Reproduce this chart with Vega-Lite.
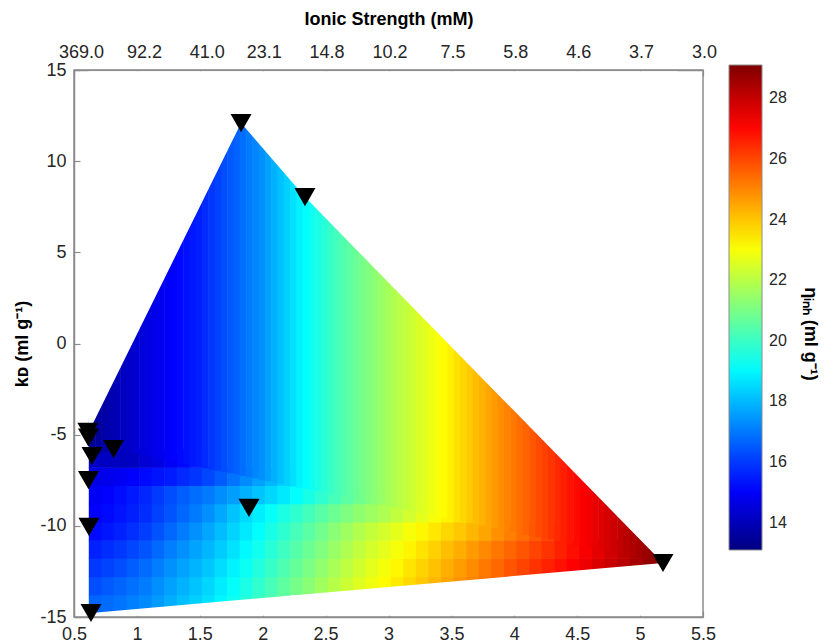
{
"$schema": "https://vega.github.io/schema/vega-lite/v6.json",
"width": 629, "height": 547,
"autosize": {"type": "none"},
"padding": {"left": 74, "top": 70, "right": 121, "bottom": 25},
"background": "white",
"config": {
 "view": {"stroke": "#8c8c8c", "strokeWidth": 1.5},
 "font": "Liberation Sans",
 "axis": {"labelFont": "Liberation Sans", "labelFontSize": 18, "labelColor": "#262626", "titleFont": "Liberation Sans", "titleFontSize": 18, "titleFontWeight": "bold", "titleColor": "#000000", "tickColor": "#8c8c8c", "tickSize": -6, "tickWidth": 1.2, "domainColor": "#8c8c8c", "domainWidth": 1.5, "grid": false, "labelPadding": 14, "labelFlush": false, "labelOverlap": false}
},
"datasets": {
 "cells": [
{"x":0.67,"y":-14.3,"v":16.69},{"x":0.67,"y":-13.3,"v":16.33},{"x":0.67,"y":-12.3,"v":15.97},{"x":0.67,"y":-11.3,"v":15.61},{"x":0.67,"y":-10.3,"v":15.25},{"x":0.67,"y":-9.3,"v":15.06},{"x":0.67,"y":-8.3,"v":14.95},{"x":0.67,"y":-7.3,"v":14.71},{"x":0.67,"y":-6.3,"v":14.19},
{"x":0.77,"y":-14.3,"v":16.8},{"x":0.77,"y":-13.3,"v":16.51},{"x":0.77,"y":-12.3,"v":16.15},{"x":0.77,"y":-11.3,"v":15.79},{"x":0.77,"y":-10.3,"v":15.43},{"x":0.77,"y":-9.3,"v":15.22},{"x":0.77,"y":-8.3,"v":15.11},{"x":0.77,"y":-7.3,"v":14.81},{"x":0.77,"y":-6.3,"v":14.15},
{"x":0.87,"y":-14.3,"v":16.92},{"x":0.87,"y":-13.3,"v":16.69},{"x":0.87,"y":-12.3,"v":16.33},{"x":0.87,"y":-11.3,"v":15.97},{"x":0.87,"y":-10.3,"v":15.61},{"x":0.87,"y":-9.3,"v":15.38},{"x":0.87,"y":-8.3,"v":15.27},{"x":0.87,"y":-7.3,"v":14.91},{"x":0.87,"y":-6.3,"v":14.09},
{"x":0.97,"y":-14.3,"v":17.09},{"x":0.97,"y":-13.3,"v":16.88},{"x":0.97,"y":-12.3,"v":16.56},{"x":0.97,"y":-11.3,"v":16.2},{"x":0.97,"y":-10.3,"v":15.84},{"x":0.97,"y":-9.3,"v":15.59},{"x":0.97,"y":-8.3,"v":15.47},{"x":0.97,"y":-7.3,"v":15.09},{"x":0.97,"y":-6.3,"v":14.1},
{"x":1.07,"y":-14.3,"v":17.27},{"x":1.07,"y":-13.3,"v":17.05},{"x":1.07,"y":-12.3,"v":16.78},{"x":1.07,"y":-11.3,"v":16.42},{"x":1.07,"y":-10.3,"v":16.06},{"x":1.07,"y":-9.3,"v":15.8},{"x":1.07,"y":-8.3,"v":15.68},{"x":1.07,"y":-7.3,"v":15.24},{"x":1.07,"y":-6.3,"v":14.4},
{"x":1.17,"y":-14.3,"v":17.53},{"x":1.17,"y":-13.3,"v":17.34},{"x":1.17,"y":-12.3,"v":17.08},{"x":1.17,"y":-11.3,"v":16.75},{"x":1.17,"y":-10.3,"v":16.39},{"x":1.17,"y":-9.3,"v":16.11},{"x":1.17,"y":-8.3,"v":15.99},{"x":1.17,"y":-7.3,"v":15.4},{"x":1.17,"y":-6.3,"v":14.63},
{"x":1.27,"y":-14.3,"v":17.82},{"x":1.27,"y":-13.3,"v":17.62},{"x":1.27,"y":-12.3,"v":17.37},{"x":1.27,"y":-11.3,"v":17.08},{"x":1.27,"y":-10.3,"v":16.72},{"x":1.27,"y":-9.3,"v":16.42},{"x":1.27,"y":-8.3,"v":16.3},{"x":1.27,"y":-7.3,"v":15.5},{"x":1.27,"y":-6.3,"v":14.92},
{"x":1.37,"y":-14.3,"v":18.08},{"x":1.37,"y":-13.3,"v":17.9},{"x":1.37,"y":-12.3,"v":17.65},{"x":1.37,"y":-11.3,"v":17.37},{"x":1.37,"y":-10.3,"v":17.05},{"x":1.37,"y":-9.3,"v":16.73},{"x":1.37,"y":-8.3,"v":16.56},{"x":1.37,"y":-7.3,"v":15.73},{"x":1.37,"y":-6.3,"v":15.21},
{"x":1.47,"y":-14.3,"v":18.37},{"x":1.47,"y":-13.3,"v":18.18},{"x":1.47,"y":-12.3,"v":17.93},{"x":1.47,"y":-11.3,"v":17.68},{"x":1.47,"y":-10.3,"v":17.38},{"x":1.47,"y":-9.3,"v":17.03},{"x":1.47,"y":-8.3,"v":16.81},{"x":1.47,"y":-7.3,"v":15.93},{"x":1.47,"y":-6.3,"v":15.49},
{"x":1.57,"y":-14.3,"v":18.63},{"x":1.57,"y":-13.3,"v":18.46},{"x":1.57,"y":-12.3,"v":18.21},{"x":1.57,"y":-11.3,"v":17.96},{"x":1.57,"y":-10.3,"v":17.7},{"x":1.57,"y":-9.3,"v":17.35},{"x":1.57,"y":-8.3,"v":17.02},{"x":1.57,"y":-7.3,"v":16.2},
{"x":1.67,"y":-14.3,"v":18.98},{"x":1.67,"y":-13.3,"v":18.81},{"x":1.67,"y":-12.3,"v":18.56},{"x":1.67,"y":-11.3,"v":18.31},{"x":1.67,"y":-10.3,"v":18.07},{"x":1.67,"y":-9.3,"v":17.74},{"x":1.67,"y":-8.3,"v":17.32},{"x":1.67,"y":-7.3,"v":16.55},
{"x":1.77,"y":-14.3,"v":19.32},{"x":1.77,"y":-13.3,"v":19.16},{"x":1.77,"y":-12.3,"v":18.91},{"x":1.77,"y":-11.3,"v":18.66},{"x":1.77,"y":-10.3,"v":18.42},{"x":1.77,"y":-9.3,"v":18.16},{"x":1.77,"y":-8.3,"v":17.59},{"x":1.77,"y":-7.3,"v":16.91},
{"x":1.87,"y":-14.3,"v":19.67},{"x":1.87,"y":-13.3,"v":19.51},{"x":1.87,"y":-12.3,"v":19.26},{"x":1.87,"y":-11.3,"v":19.02},{"x":1.87,"y":-10.3,"v":18.77},{"x":1.87,"y":-9.3,"v":18.52},{"x":1.87,"y":-8.3,"v":17.88},{"x":1.87,"y":-7.3,"v":17.26},
{"x":1.97,"y":-14.3,"v":20.01},{"x":1.97,"y":-13.3,"v":19.86},{"x":1.97,"y":-12.3,"v":19.62},{"x":1.97,"y":-11.3,"v":19.37},{"x":1.97,"y":-10.3,"v":19.12},{"x":1.97,"y":-9.3,"v":18.83},{"x":1.97,"y":-8.3,"v":18.17},{"x":1.97,"y":-7.3,"v":17.62},
{"x":2.07,"y":-14.3,"v":20.35},{"x":2.07,"y":-13.3,"v":20.22},{"x":2.07,"y":-12.3,"v":19.97},{"x":2.07,"y":-11.3,"v":19.72},{"x":2.07,"y":-10.3,"v":19.47},{"x":2.07,"y":-9.3,"v":19.2},{"x":2.07,"y":-8.3,"v":18.47},{"x":2.07,"y":-7.3,"v":17.98},
{"x":2.17,"y":-14.3,"v":20.7},{"x":2.17,"y":-13.3,"v":20.57},{"x":2.17,"y":-12.3,"v":20.32},{"x":2.17,"y":-11.3,"v":20.07},{"x":2.17,"y":-10.3,"v":19.82},{"x":2.17,"y":-9.3,"v":19.52},{"x":2.17,"y":-8.3,"v":18.77},{"x":2.17,"y":-7.3,"v":18.34},
{"x":2.27,"y":-13.3,"v":20.93},{"x":2.27,"y":-12.3,"v":20.68},{"x":2.27,"y":-11.3,"v":20.43},{"x":2.27,"y":-10.3,"v":20.18},{"x":2.27,"y":-9.3,"v":19.84},{"x":2.27,"y":-8.3,"v":19.11},
{"x":2.37,"y":-13.3,"v":21.27},{"x":2.37,"y":-12.3,"v":21.03},{"x":2.37,"y":-11.3,"v":20.78},{"x":2.37,"y":-10.3,"v":20.53},{"x":2.37,"y":-9.3,"v":20.16},{"x":2.37,"y":-8.3,"v":19.47},
{"x":2.47,"y":-13.3,"v":21.62},{"x":2.47,"y":-12.3,"v":21.38},{"x":2.47,"y":-11.3,"v":21.13},{"x":2.47,"y":-10.3,"v":20.88},{"x":2.47,"y":-9.3,"v":20.48},{"x":2.47,"y":-8.3,"v":19.83},
{"x":2.57,"y":-13.3,"v":21.96},{"x":2.57,"y":-12.3,"v":21.73},{"x":2.57,"y":-11.3,"v":21.48},{"x":2.57,"y":-10.3,"v":21.24},{"x":2.57,"y":-9.3,"v":20.79},{"x":2.57,"y":-8.3,"v":20.18},
{"x":2.67,"y":-13.3,"v":22.3},{"x":2.67,"y":-12.3,"v":22.08},{"x":2.67,"y":-11.3,"v":21.83},{"x":2.67,"y":-10.3,"v":21.59},{"x":2.67,"y":-9.3,"v":21.07},{"x":2.67,"y":-8.3,"v":20.54},
{"x":2.77,"y":-13.3,"v":22.6},{"x":2.77,"y":-12.3,"v":22.38},{"x":2.77,"y":-11.3,"v":22.14},{"x":2.77,"y":-10.3,"v":21.89},{"x":2.77,"y":-9.3,"v":21.34},{"x":2.77,"y":-8.3,"v":20.84},
{"x":2.87,"y":-13.3,"v":22.87},{"x":2.87,"y":-12.3,"v":22.67},{"x":2.87,"y":-11.3,"v":22.42},{"x":2.87,"y":-10.3,"v":22.18},{"x":2.87,"y":-9.3,"v":21.57},{"x":2.87,"y":-8.3,"v":21.14},
{"x":2.97,"y":-13.3,"v":23.14},{"x":2.97,"y":-12.3,"v":22.95},{"x":2.97,"y":-11.3,"v":22.7},{"x":2.97,"y":-10.3,"v":22.44},{"x":2.97,"y":-9.3,"v":21.83},
{"x":3.07,"y":-13.3,"v":23.42},{"x":3.07,"y":-12.3,"v":23.23},{"x":3.07,"y":-11.3,"v":22.98},{"x":3.07,"y":-10.3,"v":22.7},{"x":3.07,"y":-9.3,"v":22.12},
{"x":3.17,"y":-13.3,"v":23.69},{"x":3.17,"y":-12.3,"v":23.51},{"x":3.17,"y":-11.3,"v":23.26},{"x":3.17,"y":-10.3,"v":22.97},{"x":3.17,"y":-9.3,"v":22.4},
{"x":3.27,"y":-13.3,"v":23.96},{"x":3.27,"y":-12.3,"v":23.79},{"x":3.27,"y":-11.3,"v":23.54},{"x":3.27,"y":-10.3,"v":23.22},{"x":3.27,"y":-9.3,"v":22.69},
{"x":3.37,"y":-13.3,"v":24.24},{"x":3.37,"y":-12.3,"v":24.07},{"x":3.37,"y":-11.3,"v":23.82},{"x":3.37,"y":-10.3,"v":23.48},{"x":3.37,"y":-9.3,"v":22.98},
{"x":3.47,"y":-13.3,"v":24.51},{"x":3.47,"y":-12.3,"v":24.35},{"x":3.47,"y":-11.3,"v":24.1},{"x":3.47,"y":-10.3,"v":23.73},{"x":3.47,"y":-9.3,"v":23.27},
{"x":3.57,"y":-13.3,"v":24.78},{"x":3.57,"y":-12.3,"v":24.63},{"x":3.57,"y":-11.3,"v":24.38},{"x":3.57,"y":-10.3,"v":23.97},{"x":3.57,"y":-9.3,"v":23.56},
{"x":3.67,"y":-13.3,"v":25.06},{"x":3.67,"y":-12.3,"v":24.91},{"x":3.67,"y":-11.3,"v":24.67},{"x":3.67,"y":-10.3,"v":24.25},
{"x":3.77,"y":-13.3,"v":25.33},{"x":3.77,"y":-12.3,"v":25.2},{"x":3.77,"y":-11.3,"v":24.95},{"x":3.77,"y":-10.3,"v":24.51},
{"x":3.87,"y":-13.3,"v":25.61},{"x":3.87,"y":-12.3,"v":25.48},{"x":3.87,"y":-11.3,"v":25.23},{"x":3.87,"y":-10.3,"v":24.82},
{"x":3.97,"y":-12.3,"v":25.76},{"x":3.97,"y":-11.3,"v":25.52},{"x":3.97,"y":-10.3,"v":25.11},
{"x":4.07,"y":-12.3,"v":26.03},{"x":4.07,"y":-11.3,"v":25.78},{"x":4.07,"y":-10.3,"v":25.4},
{"x":4.17,"y":-12.3,"v":26.3},{"x":4.17,"y":-11.3,"v":26.05},{"x":4.17,"y":-10.3,"v":25.69},
{"x":4.27,"y":-12.3,"v":26.58},{"x":4.27,"y":-11.3,"v":26.3},{"x":4.27,"y":-10.3,"v":25.98},
{"x":4.37,"y":-12.3,"v":26.85},{"x":4.37,"y":-11.3,"v":26.6},
{"x":4.47,"y":-12.3,"v":27.12},{"x":4.47,"y":-11.3,"v":26.9},
{"x":4.57,"y":-12.3,"v":27.39},{"x":4.57,"y":-11.3,"v":27.2},
{"x":4.67,"y":-12.3,"v":27.67},{"x":4.67,"y":-11.3,"v":27.5},
{"x":4.77,"y":-12.3,"v":27.94},{"x":4.77,"y":-11.3,"v":27.81},
{"x":4.87,"y":-12.3,"v":28.22},{"x":4.87,"y":-11.3,"v":28.11},
{"x":4.97,"y":-12.3,"v":28.49},{"x":4.97,"y":-11.3,"v":28.4},
{"x":5.07,"y":-12.3,"v":28.77},
{"x":5.17,"y":-12.3,"v":29.0}
 ],
 "strips": [
{"x":0.645,"lo":-6.17,"hi":-4.11,"v":13.42},{"x":0.695,"lo":-6.05,"hi":-3.41,"v":13.56},{"x":0.745,"lo":-5.94,"hi":-2.71,"v":13.7},{"x":0.795,"lo":-5.83,"hi":-2.01,"v":13.84},
{"x":0.845,"lo":-5.83,"hi":-1.31,"v":13.97},{"x":0.895,"lo":-5.91,"hi":-0.61,"v":14.11},{"x":0.945,"lo":-5.98,"hi":0.09,"v":14.25},{"x":0.995,"lo":-6.05,"hi":0.79,"v":14.39},
{"x":1.045,"lo":-6.12,"hi":1.49,"v":14.51},{"x":1.095,"lo":-6.19,"hi":2.19,"v":14.63},{"x":1.145,"lo":-6.26,"hi":2.88,"v":14.75},{"x":1.195,"lo":-6.34,"hi":3.58,"v":14.87},
{"x":1.245,"lo":-6.41,"hi":4.28,"v":14.99},{"x":1.295,"lo":-6.48,"hi":4.98,"v":15.11},{"x":1.345,"lo":-6.55,"hi":5.68,"v":15.23},{"x":1.395,"lo":-6.62,"hi":6.38,"v":15.35},
{"x":1.445,"lo":-6.69,"hi":7.08,"v":15.47},{"x":1.495,"lo":-6.77,"hi":7.78,"v":15.59},{"x":1.545,"lo":-6.84,"hi":8.48,"v":15.76},{"x":1.595,"lo":-6.91,"hi":9.18,"v":15.94},
{"x":1.645,"lo":-6.98,"hi":9.88,"v":16.12},{"x":1.695,"lo":-7.05,"hi":10.58,"v":16.3},{"x":1.745,"lo":-7.12,"hi":11.28,"v":16.48},{"x":1.795,"lo":-7.19,"hi":12.0,"v":16.66},
{"x":1.845,"lo":-7.27,"hi":12.09,"v":16.84},{"x":1.895,"lo":-7.34,"hi":11.75,"v":17.02},{"x":1.945,"lo":-7.41,"hi":11.36,"v":17.2},{"x":1.995,"lo":-7.48,"hi":10.96,"v":17.38},
{"x":2.045,"lo":-7.55,"hi":10.56,"v":17.63},{"x":2.095,"lo":-7.62,"hi":10.16,"v":17.88},{"x":2.145,"lo":-7.7,"hi":9.76,"v":18.13},{"x":2.195,"lo":-7.77,"hi":9.36,"v":18.38},
{"x":2.245,"lo":-7.84,"hi":8.96,"v":18.63},{"x":2.295,"lo":-7.91,"hi":8.56,"v":18.88},{"x":2.345,"lo":-7.98,"hi":8.16,"v":19.09},{"x":2.395,"lo":-8.05,"hi":7.79,"v":19.31},
{"x":2.445,"lo":-8.12,"hi":7.44,"v":19.53},{"x":2.495,"lo":-8.2,"hi":7.09,"v":19.74},{"x":2.545,"lo":-8.27,"hi":6.73,"v":19.96},{"x":2.595,"lo":-8.34,"hi":6.38,"v":20.18},
{"x":2.645,"lo":-8.41,"hi":6.03,"v":20.37},{"x":2.695,"lo":-8.48,"hi":5.68,"v":20.56},{"x":2.745,"lo":-8.55,"hi":5.32,"v":20.74},{"x":2.795,"lo":-8.63,"hi":4.97,"v":20.93},
{"x":2.845,"lo":-8.7,"hi":4.62,"v":21.12},{"x":2.895,"lo":-8.77,"hi":4.26,"v":21.31},{"x":2.945,"lo":-8.84,"hi":3.91,"v":21.49},{"x":2.995,"lo":-8.91,"hi":3.56,"v":21.68},
{"x":3.045,"lo":-8.98,"hi":3.21,"v":21.85},{"x":3.095,"lo":-9.05,"hi":2.85,"v":22.01},{"x":3.145,"lo":-9.13,"hi":2.5,"v":22.17},{"x":3.195,"lo":-9.2,"hi":2.15,"v":22.33},
{"x":3.245,"lo":-9.27,"hi":1.8,"v":22.5},{"x":3.295,"lo":-9.34,"hi":1.44,"v":22.66},{"x":3.345,"lo":-9.41,"hi":1.09,"v":22.82},{"x":3.395,"lo":-9.48,"hi":0.74,"v":22.99},
{"x":3.445,"lo":-9.56,"hi":0.39,"v":23.16},{"x":3.495,"lo":-9.63,"hi":0.03,"v":23.35},{"x":3.545,"lo":-9.7,"hi":-0.32,"v":23.54},{"x":3.595,"lo":-9.77,"hi":-0.67,"v":23.73},
{"x":3.645,"lo":-9.84,"hi":-1.03,"v":23.92},{"x":3.695,"lo":-9.91,"hi":-1.38,"v":24.11},{"x":3.745,"lo":-9.98,"hi":-1.73,"v":24.3},{"x":3.795,"lo":-10.06,"hi":-2.08,"v":24.49},
{"x":3.845,"lo":-10.13,"hi":-2.44,"v":24.68},{"x":3.895,"lo":-10.2,"hi":-2.79,"v":24.86},{"x":3.945,"lo":-10.27,"hi":-3.14,"v":25.04},{"x":3.995,"lo":-10.34,"hi":-3.49,"v":25.21},
{"x":4.045,"lo":-10.41,"hi":-3.85,"v":25.39},{"x":4.095,"lo":-10.49,"hi":-4.2,"v":25.57},{"x":4.145,"lo":-10.56,"hi":-4.55,"v":25.74},{"x":4.195,"lo":-10.63,"hi":-4.9,"v":25.92},
{"x":4.245,"lo":-10.7,"hi":-5.26,"v":26.1},{"x":4.295,"lo":-10.77,"hi":-5.61,"v":26.27},{"x":4.345,"lo":-10.84,"hi":-5.96,"v":26.45},{"x":4.395,"lo":-10.91,"hi":-6.31,"v":26.63},
{"x":4.445,"lo":-10.99,"hi":-6.67,"v":26.81},{"x":4.495,"lo":-11.06,"hi":-7.02,"v":26.98},{"x":4.545,"lo":-11.13,"hi":-7.37,"v":27.14},{"x":4.595,"lo":-11.2,"hi":-7.72,"v":27.29},
{"x":4.645,"lo":-11.27,"hi":-8.08,"v":27.45},{"x":4.695,"lo":-11.34,"hi":-8.43,"v":27.6},{"x":4.745,"lo":-11.42,"hi":-8.78,"v":27.76},{"x":4.795,"lo":-11.49,"hi":-9.14,"v":27.91},
{"x":4.845,"lo":-11.56,"hi":-9.49,"v":28.07},{"x":4.895,"lo":-11.63,"hi":-9.84,"v":28.22},{"x":4.945,"lo":-11.7,"hi":-10.19,"v":28.37},{"x":4.995,"lo":-11.77,"hi":-10.55,"v":28.53},
{"x":5.045,"lo":-11.85,"hi":-10.9,"v":28.68},{"x":5.095,"lo":-11.92,"hi":-11.25,"v":28.84},{"x":5.145,"lo":-11.99,"hi":-11.6,"v":28.99},{"x":5.195,"lo":-12.06,"hi":-11.96,"v":29.1}
 ],
 "edges": [
{"part":"top","x":0.615,"edge":-4.88},{"part":"top","x":1.828,"edge":12.09},{"part":"top","x":2.336,"edge":8.03},{"part":"top","x":5.182,"edge":-12.04},{"part":"top","x":5.3,"edge":-12.87},
{"part":"bot","x":0.6,"edge":-14.8},{"part":"bot","x":0.635,"edge":-14.78},{"part":"bot","x":5.182,"edge":-12.04},{"part":"bot","x":5.3,"edge":-11.97}
 ],
 "pts": [
{"x":0.61,"y":-4.85},{"x":0.615,"y":-5.16},{"x":0.643,"y":-6.17},{"x":0.814,"y":-5.79},{"x":0.615,"y":-7.49},{"x":0.619,"y":-10.06},{"x":0.635,"y":-14.78},{"x":1.891,"y":-9.02},{"x":1.828,"y":12.09},{"x":2.336,"y":8.03},{"x":5.182,"y":-12.04}
 ]
},
"layer": [
 {
  "data": {"name": "cells"},
  "mark": {"type": "rect", "width": 13.2, "height": 18.8},
  "encoding": {
   "x": {"field": "x", "type": "quantitative", "scale": {"domain": [0.5, 5.5], "nice": false, "zero": false},
         "axis": {"orient": "bottom", "values": [0.5,1,1.5,2,2.5,3,3.5,4,4.5,5,5.5], "labelExpr": "'' + datum.value", "title": null}},
   "y": {"field": "y", "type": "quantitative", "scale": {"domain": [-15, 15], "nice": false, "zero": false},
         "axis": {"orient": "left", "values": [-15,-10,-5,0,5,10,15], "labelExpr": "'' + datum.value", "title": "kᴅ (ml g⁻¹)", "titlePadding": 8}},
   "color": {"field": "v", "type": "quantitative",
     "scale": {"type": "linear", "domain": [13.1, 15.1, 19.1, 23.1, 27.1, 29.1], "range": ["#000080", "#0000ff", "#00ffff", "#ffff00", "#ff0000", "#800000"], "interpolate": "rgb", "clamp": true},
     "legend": {"type": "gradient", "orient": "none", "legendX": 655, "legendY": -5, "direction": "vertical", "gradientLength": 485, "gradientThickness": 33, "gradientStrokeColor": "#8c8c8c", "gradientStrokeWidth": 1, "labelFont": "Liberation Sans", "labelFontSize": 16, "labelColor": "#262626", "labelOffset": 7, "values": [14,16,18,20,22,24,26,28], "title": "ηᵢₙₕ (ml g⁻¹)", "titleOrient": "right", "titleFont": "Liberation Sans", "titleFontSize": 18, "titleFontWeight": "bold", "titleColor": "#000000", "titlePadding": 14, "padding": 0, "encoding": {"title": {"dx": {"value": 26}}}}}
  }
 },
 {
  "data": {"name": "strips"},
  "mark": {"type": "rect", "width": 6.8},
  "encoding": {
   "x": {"field": "x", "type": "quantitative", "scale": {"domain": [0.5, 5.5], "nice": false, "zero": false}, "axis": null},
   "y": {"field": "lo", "type": "quantitative", "scale": {"domain": [-15, 15], "nice": false, "zero": false},
         "axis": {"orient": "left", "values": [-15,-10,-5,0,5,10,15], "labelExpr": "'' + datum.value", "title": "kᴅ (ml g⁻¹)", "titlePadding": 8}},
   "y2": {"field": "hi"},
   "color": {"field": "v", "type": "quantitative",
     "scale": {"type": "linear", "domain": [13.1, 15.1, 19.1, 23.1, 27.1, 29.1], "range": ["#000080", "#0000ff", "#00ffff", "#ffff00", "#ff0000", "#800000"], "interpolate": "rgb", "clamp": true},
     "legend": {"type": "gradient", "orient": "none", "legendX": 655, "legendY": -5, "direction": "vertical", "gradientLength": 485, "gradientThickness": 33, "gradientStrokeColor": "#8c8c8c", "gradientStrokeWidth": 1, "labelFont": "Liberation Sans", "labelFontSize": 16, "labelColor": "#262626", "labelOffset": 7, "values": [14,16,18,20,22,24,26,28], "title": "ηᵢₙₕ (ml g⁻¹)", "titleOrient": "right", "titleFont": "Liberation Sans", "titleFontSize": 18, "titleFontWeight": "bold", "titleColor": "#000000", "titlePadding": 14, "padding": 0, "encoding": {"title": {"dx": {"value": 26}}}}}
  }
 },
 {
  "data": {"name": "edges"},
  "transform": [{"filter": "datum.part == 'top'"}],
  "mark": {"type": "area", "color": "white", "opacity": 1},
  "encoding": {
   "x": {"field": "x", "type": "quantitative", "axis": null},
   "y": {"field": "edge", "type": "quantitative",
         "axis": {"orient": "left", "values": [-15,-10,-5,0,5,10,15], "labelExpr": "'' + datum.value", "title": "kᴅ (ml g⁻¹)", "titlePadding": 8}},
   "y2": {"datum": 14.93}
  }
 },
 {
  "data": {"name": "edges"},
  "transform": [{"filter": "datum.part == 'bot'"}],
  "mark": {"type": "area", "color": "white", "opacity": 1},
  "encoding": {
   "x": {"field": "x", "type": "quantitative", "axis": null},
   "y": {"field": "edge", "type": "quantitative",
         "axis": {"orient": "left", "values": [-15,-10,-5,0,5,10,15], "labelExpr": "'' + datum.value", "title": "kᴅ (ml g⁻¹)", "titlePadding": 8}},
   "y2": {"datum": -14.93}
  }
 },
 {
  "data": {"name": "pts"},
  "mark": {"type": "point", "shape": "triangle-down", "filled": true, "color": "#000000", "opacity": 1, "size": 441},
  "encoding": {
   "x": {"field": "x", "type": "quantitative",
         "axis": {"orient": "top", "values": [0.5,1,1.5,2,2.5,3,3.5,4,4.5,5,5.5], "labelExpr": "['369.0','92.2','41.0','23.1','14.8','10.2','7.5','5.8','4.6','3.7','3.0'][round(datum.value*2-1)]", "labelPadding": 15, "labelOffset": {"condition": {"test": "datum.value <= 1.5", "value": 7}, "value": 1}, "title": "Ionic Strength (mM)", "titlePadding": 15}},
   "y": {"field": "y", "type": "quantitative",
         "axis": {"orient": "left", "values": [-15,-10,-5,0,5,10,15], "labelExpr": "'' + datum.value", "title": "kᴅ (ml g⁻¹)", "titlePadding": 8}}
  }
 }
],
"resolve": {"axis": {"x": "independent"}}
}
